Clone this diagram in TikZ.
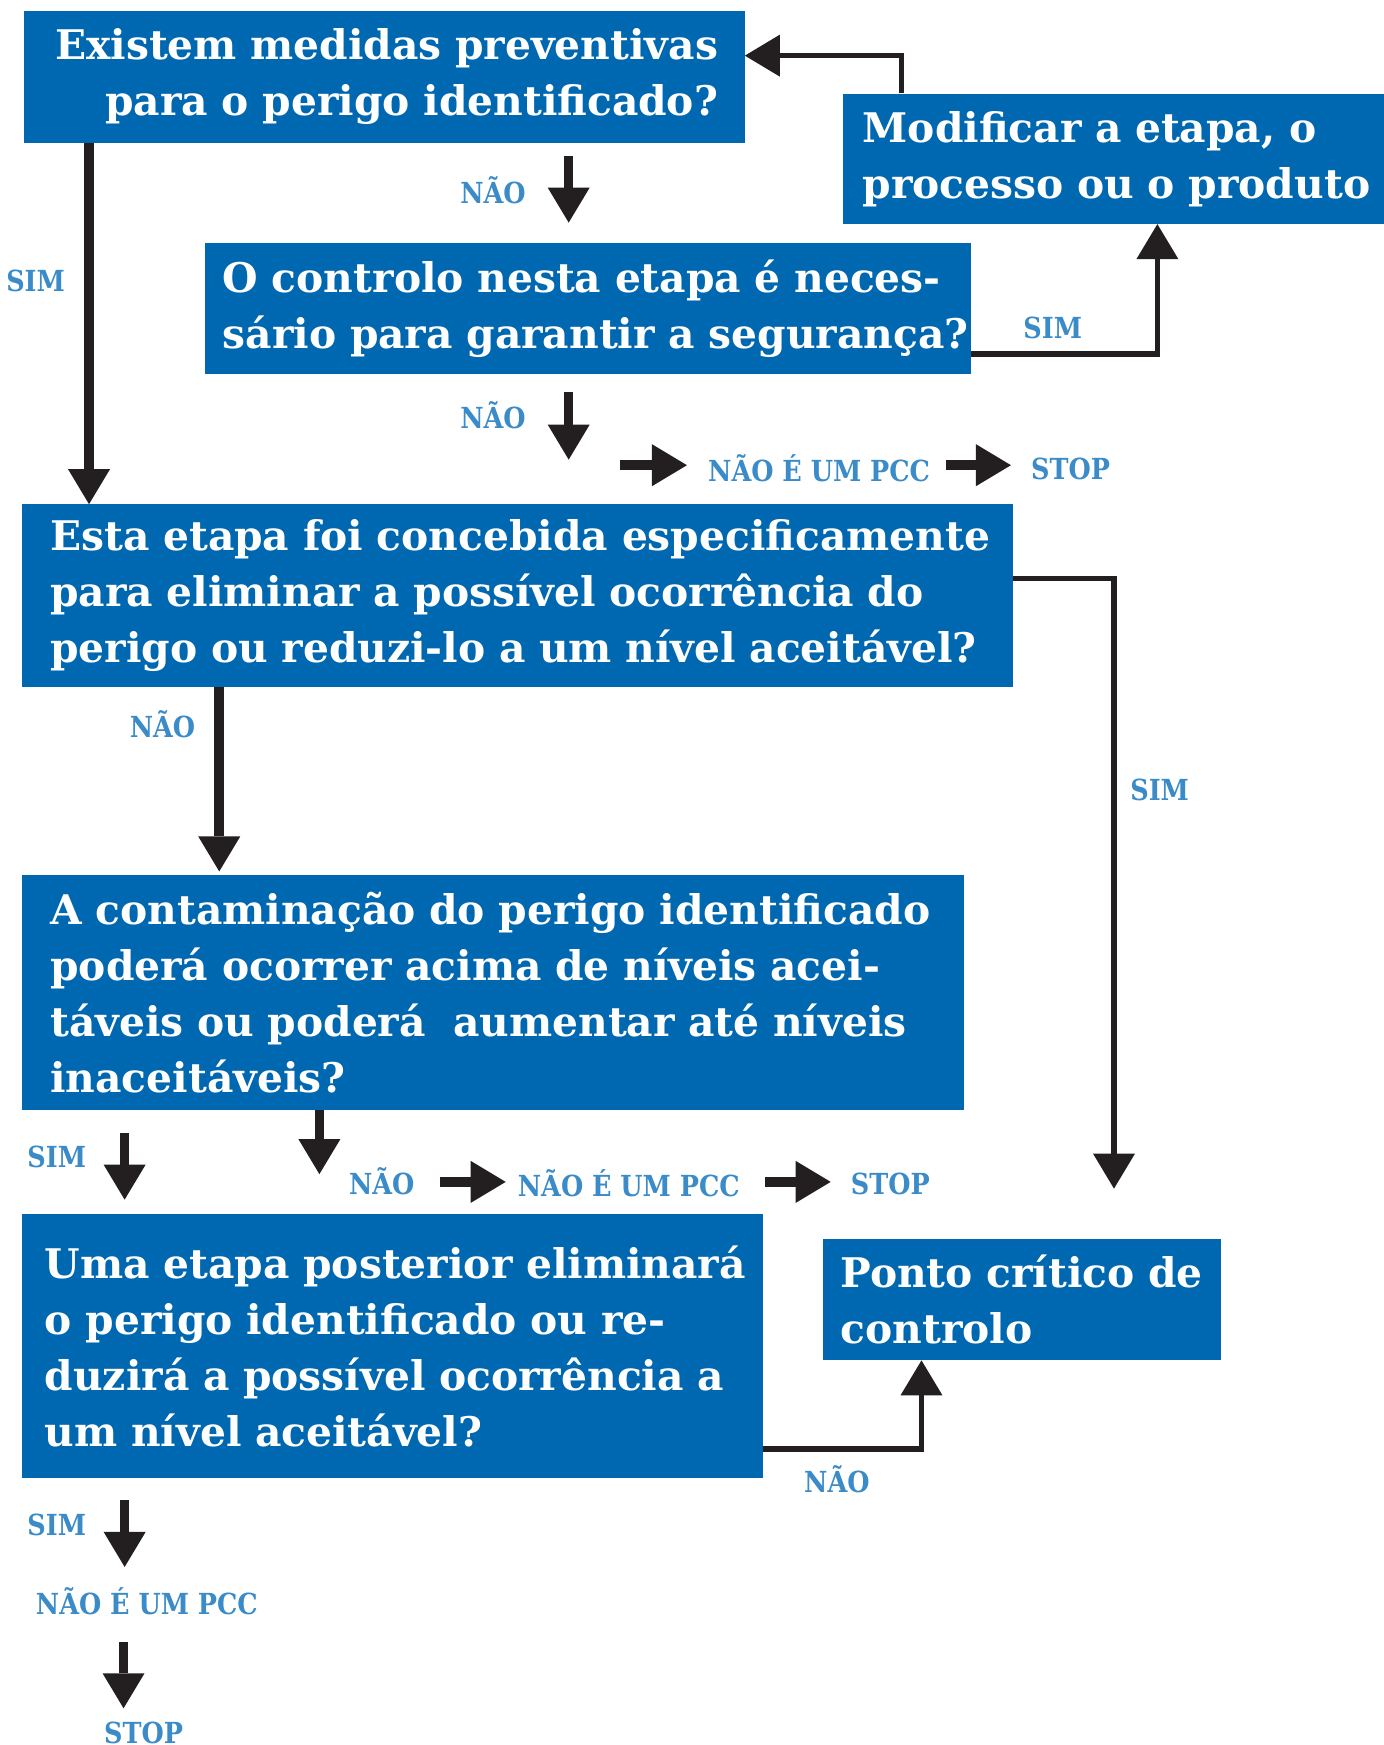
\documentclass[tikz,border=0pt]{standalone}
\usepackage{fontspec}
\setmainfont{DejaVu Serif}
\newfontfamily\labfont{DejaVu Serif}[FakeStretch=0.88]
\usetikzlibrary{arrows.meta,calc}
\definecolor{boxblue}{HTML}{0067B1}
\definecolor{labblue}{HTML}{3A8BC8}
\definecolor{arrblack}{HTML}{231F20}
\begin{document}
\begin{tikzpicture}[x=1.1127pt,y=-1.1127pt,
  box/.style={fill=boxblue, text=white, font=\fontsize{40.8}{56}\selectfont\bfseries, inner ysep=0pt, anchor=north west, align=left},
  lab/.style={text=labblue, font=\labfont\fontsize{29}{32}\selectfont\bfseries, inner sep=0pt},
  tipA/.tip={Triangle[width=42pt,length=35pt,line width=0pt 0 0]},
  sarr/.style={draw=arrblack, line width=9.5pt, -tipA},
  carr/.style={draw=arrblack, line width=5.5pt, -tipA}
]
\useasboundingbox (0,0) rectangle (1243,1568);
% boxes
\node[box, minimum width=721pt, minimum height=131.3pt, text width=668pt, inner xsep=26.5pt, align=right] (b1) at (21,10)
  {\mbox{Existem medidas preventivas}\\\mbox{para o perigo identificado?}};
\node[box, minimum width=540.8pt, minimum height=130.2pt, text width=500.8pt, inner xsep=20pt] (mod) at (757,84)
  {\mbox{Modificar a etapa, o}\\\mbox{processo ou o produto}};
\node[box, minimum width=765.5pt, minimum height=131.3pt, text width=729.9pt, inner xsep=17.8pt] (b2) at (184,218)
  {\mbox{O controlo nesta etapa é neces-}\\\mbox{sário para garantir a segurança?}};
\node[box, minimum width=990.3pt, minimum height=182.5pt, text width=934.7pt, inner xsep=27.8pt] (b3) at (20,453)
  {\mbox{Esta etapa foi concebida especificamente}\\\mbox{para eliminar a possível ocorrência do}\\\mbox{perigo ou reduzi-lo a um nível aceitável?}};
\node[box, minimum width=941.3pt, minimum height=234.8pt, text width=885.7pt, inner xsep=27.8pt] (b4) at (20,786)
  {\mbox{A contaminação do perigo identificado}\\\mbox{poderá ocorrer acima de níveis acei-}\\\mbox{táveis ou poderá~ aumentar até níveis}\\\mbox{inaceitáveis?}};
\node[box, minimum width=740pt, minimum height=263.7pt, text width=695.4pt, inner xsep=22.3pt] (b5) at (20,1091)
  {\mbox{Uma etapa posterior eliminará}\\\mbox{o perigo identificado ou re-}\\\mbox{duzirá a possível ocorrência a}\\\mbox{um nível aceitável?}};
\node[box, minimum width=398.3pt, minimum height=121.3pt, text width=362.7pt, inner xsep=17.8pt] (pcc) at (739,1113)
  {\mbox{Ponto crítico de}\\\mbox{controlo}};
% labels
\node[lab] (lnao1) at (443,171) {NÃO};
\node[lab] (lsim1) at (32,252) {SIM};
\node[lab] (lsim2) at (946,295) {SIM};
\node[lab] (lnao2) at (443,373) {NÃO};
\node[lab] (npcc1) at (736,421) {NÃO É UM PCC};
\node[lab] (stop1) at (962,421) {STOP};
\node[lab] (lnao3) at (146,651) {NÃO};
\node[lab] (lsim3) at (1042,710) {SIM};
\node[lab] (lsim4) at (51,1040) {SIM};
\node[lab] (lnao4) at (343,1061) {NÃO};
\node[lab] (npcc2) at (565,1063) {NÃO É UM PCC};
\node[lab] (stop2) at (800,1064) {STOP};
\node[lab] (lnao5) at (752,1329) {NÃO};
\node[lab] (lsim5) at (51,1370) {SIM};
\node[lab] (npcc3) at (132,1439) {NÃO É UM PCC};
\node[lab] (stop3) at (129,1557) {STOP};
% helper coordinates
\coordinate (m1) at (810,50);
\coordinate (x511) at (511,0);
\coordinate (k1) at (1040,318);
\coordinate (n2e) at (511,413);
\coordinate (a1) at (557,418);
\coordinate (x80) at (80,0);
\coordinate (r1) at (1001,520);
\coordinate (x197) at (197,0);
\coordinate (x112) at (112,0);
\coordinate (n4e) at (287,1055);
\coordinate (x287) at (287,0);
\coordinate (a3) at (395,1062);
\coordinate (q1) at (828,1302);
\coordinate (s5e) at (112,1408);
\coordinate (s6s) at (111,1475);
\coordinate (s6e) at (111,1535);
% connectors
\draw[carr] (mod.north -| m1) |- (b1.east |- m1);
\draw[sarr, shorten <=13.4pt, shorten >=20pt] (b1.south -| x511) -- (b2.north -| x511);
\draw[carr] (b2.east |- k1) -| (mod.south -| k1);
\draw[sarr, shorten <=17.8pt] (b2.south -| x511) -- (n2e);
\draw[sarr, shorten >=21pt] (a1) -- (a1 -| npcc1.west);
\draw[sarr, shorten <=15.6pt, shorten >=20pt] (npcc1.east |- a1) -- (stop1.west |- a1);
\draw[sarr] (b1.south -| x80) -- (b3.north -| x80);
\draw[carr, shorten >=50pt] (b3.east |- r1) -| (pcc.north -| r1);
\draw[sarr, shorten >=3.3pt] (b3.south -| x197) -- (b4.north -| x197);
\draw[sarr, shorten <=23.4pt, shorten >=14.5pt] (b4.south -| x112) -- (b5.north -| x112);
\draw[sarr] (b4.south -| x287) -- (n4e);
\draw[sarr, shorten >=12pt] (a3) -- (a3 -| npcc2.west);
\draw[sarr, shorten <=25.6pt, shorten >=20pt] (npcc2.east |- a3) -- (stop2.west |- a3);
\draw[carr] (b5.east |- q1) -| (pcc.south -| q1);
\draw[sarr, shorten <=22pt] (b5.south -| x112) -- (s5e);
\draw[sarr] (s6s) -- (s6e);
\end{tikzpicture}
\end{document}
